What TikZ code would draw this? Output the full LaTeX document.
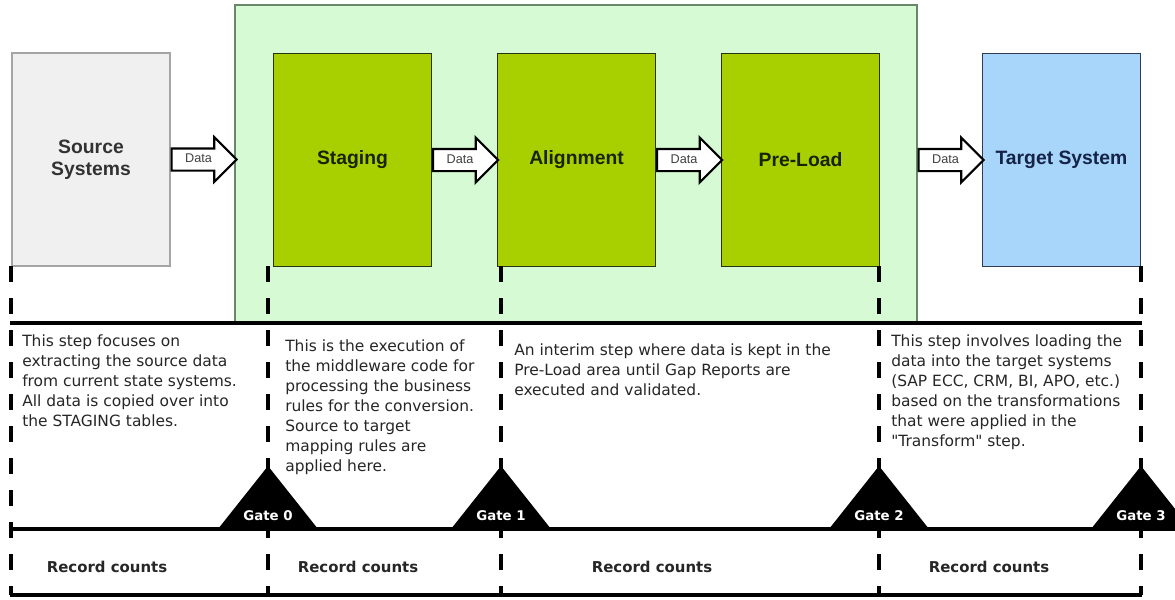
\documentclass[tikz,border=0pt]{standalone}
\usepackage{fontspec}
\setmainfont{DejaVu Sans}[Ligatures=TeXOff]
\newfontfamily\titlefont{Liberation Sans}
\usepackage{xcolor}
\usetikzlibrary{shapes.arrows,positioning,calc}

\definecolor{areagreen}{RGB}{214,250,212}
\definecolor{arealine}{RGB}{105,135,105}
\definecolor{stagegreen}{RGB}{168,208,0}
\definecolor{stageline}{RGB}{40,50,20}
\definecolor{stagetext}{RGB}{25,35,0}
\definecolor{srcgray}{RGB}{240,240,240}
\definecolor{srcline}{RGB}{165,165,165}
\definecolor{srctext}{RGB}{50,50,50}
\definecolor{tgtblue}{RGB}{168,214,250}
\definecolor{tgtline}{RGB}{50,60,80}
\definecolor{tgttext}{RGB}{20,35,70}

\begin{document}
\begin{tikzpicture}[
    x=0.75pt, y=-0.75pt,
    node distance=48.7pt,
    stagebox/.style={rectangle, draw=stageline, fill=stagegreen, line width=0.8pt, minimum width=118.5pt, minimum height=159.75pt, inner sep=0pt, align=center, font=\titlefont\bfseries\fontsize{14.5}{16.5}\selectfont, text=stagetext},
    sysbox/.style={stagebox, draw=srcline, fill=srcgray, text=srctext},
    tgtbox/.style={stagebox, draw=tgtline, fill=tgtblue, text=tgttext},
    area/.style={rectangle, draw=arealine, fill=areagreen, line width=0.8pt, minimum width=511.5pt, minimum height=237.75pt},
    dataarrow/.style={single arrow, draw=black, fill=white, line width=1.6pt, minimum height=48.75pt, single arrow head extend=8.5pt, single arrow head indent=0pt, inner ysep=3.5pt, inner xsep=2pt, text height=6.5pt, text depth=1.5pt, font=\titlefont\fontsize{9.5}{10}\selectfont, text=black!75, anchor=tail},
    note/.style={anchor=north west, align=left, inner sep=0pt, font=\fontsize{11.6}{15}\selectfont, text=black!85},
    counts/.style={font=\bfseries\fontsize{11.2}{12}\selectfont, text=black!85},
    gatelabel/.style={font=\bfseries\fontsize{10}{11}\selectfont, text=white},
    rule/.style={line width=3pt},
    tick/.style={line width=3pt, dash pattern=on 12pt off 12pt}
]
    \clip (0,0) rectangle (1175,600);
    \fill[white] (0,0) rectangle (1175,600);

    % middleware area and the five boxes
    \node[area] (area) at (576,163.5) {};
    \node[sysbox] (src) at (91,159.5) {Source\\Systems};
    \node[stagebox, anchor=north west] (stg) at (273,53) {Staging};
    \node[stagebox, right=of stg] (aln) {Alignment};
    \node[stagebox, right=of aln] (pre) {Pre-Load};
    \node[tgtbox, right=76.4pt of pre] (tgt) {Target System};

    % data arrows
    \node[dataarrow] (d1) at (src.east) {Data};
    \node[dataarrow] (d2) at (stg.east) {Data};
    \node[dataarrow] (d3) at (aln.east) {Data};
    \node[dataarrow] (d4) at (tgt.west -| area.east) {Data};

    % timeline rules
    \coordinate (top0) at (10,323);
    \coordinate (top1) at (1142,323);
    \coordinate (mid0) at (10,529);
    \coordinate (mid1) at (1175,529);
    \coordinate (bot0) at (10,595);
    \coordinate (bot1) at (1142,595);
    \draw[rule] (top0) -- (top1);
    \draw[rule] (mid0) -- (mid1);
    \draw[rule] (bot0) -- (bot1);

    % dashed phase borders
    \foreach \x in {11,268,501,879,1141}
        \draw[tick] (\x,266) -- (\x,595);

    % gates
    \foreach \x/\n in {268/0,501/1,879/2,1141/3} {
        \fill (\x-50,529) -- (\x,466) -- (\x+50,529) -- cycle;
        \node[gatelabel] (gate\n) at (\x,516) {Gate \n};
    }

    % phase notes
    \node[note] (n1) at (22,334) {This step focuses on\\extracting the source data\\from current state systems.\\All data is copied over into\\the STAGING tables.};
    \node[note] (n2) at (285,339) {This is the execution of\\the middleware code for\\processing the business\\rules for the conversion.\\Source to target\\mapping rules are\\applied here.};
    \node[note] (n3) at (514,343) {An interim step where data is kept in the\\Pre-Load area until Gap Reports are\\executed and validated.};
    \node[note] (n4) at (891,334) {This step involves loading the\\data into the target systems\\(SAP ECC, CRM, BI, APO, etc.)\\based on the transformations\\that were applied in the\\"Transform" step.};

    % record counts
    \node[counts] (c1) at (107,567) {Record counts};
    \node[counts] (c2) at (358,567) {Record counts};
    \node[counts] (c3) at (652,567) {Record counts};
    \node[counts] (c4) at (989,567) {Record counts};
\end{tikzpicture}
\end{document}
